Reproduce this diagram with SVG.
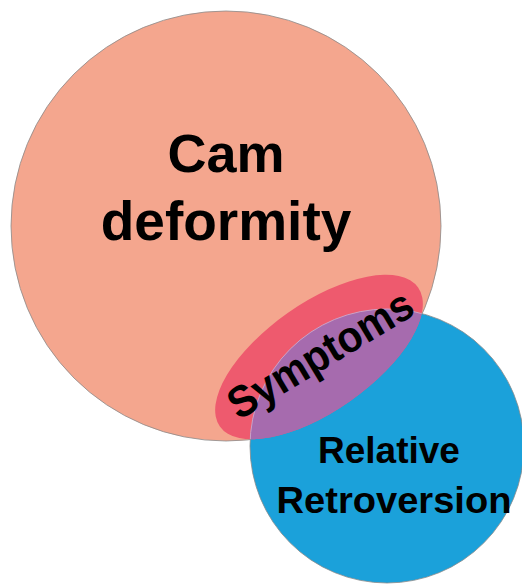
<svg xmlns="http://www.w3.org/2000/svg" width="522" height="584" viewBox="0 0 522 584">
<style>
.lbl{font-family:"Liberation Sans",Arial,sans-serif;font-weight:bold;fill:#000;text-anchor:middle}
.edge{stroke:#8a8a8a;stroke-width:0.8}
</style>
<defs>
<clipPath id="blueClip"><circle cx="387" cy="446" r="137"/></clipPath>
<clipPath id="symClip"><ellipse cx="319" cy="357" rx="121" ry="54" transform="rotate(-35 319 357)"/></clipPath>
<ellipse id="symEllipse" cx="319" cy="357" rx="121" ry="54" transform="rotate(-35 319 357)"/>
</defs>
<rect width="522" height="584" fill="#fff"/>
<g id="cam">
<circle cx="226" cy="226" r="215" fill="#F4A68E" class="edge"/>
<text class="lbl" x="226" y="172" font-size="54">Cam</text>
<text class="lbl" x="226" y="240" font-size="55">deformity</text>
</g>
<g id="retro">
<circle cx="387" cy="446" r="137" fill="#1BA1DA" class="edge"/>
</g>
<g id="symptoms">
<use href="#symEllipse" fill="#EE5A6E"/>
<g clip-path="url(#blueClip)">
<use href="#symEllipse" fill="#A66BAE"/>
</g>
<g clip-path="url(#symClip)">
<circle cx="387" cy="446" r="137" fill="none" stroke="#c9b3d6" stroke-width="0.8"/>
</g>
<text class="lbl" font-size="44" transform="translate(328 367) rotate(-31)" x="0" y="0" textLength="208" lengthAdjust="spacingAndGlyphs">Symptoms</text>
</g>
<g id="retro-label">
<text class="lbl" x="389" y="463" font-size="37">Relative</text>
<text class="lbl" x="394" y="513" font-size="37" textLength="235" lengthAdjust="spacingAndGlyphs">Retroversion</text>
</g>
<g id="connectors"></g>
</svg>
